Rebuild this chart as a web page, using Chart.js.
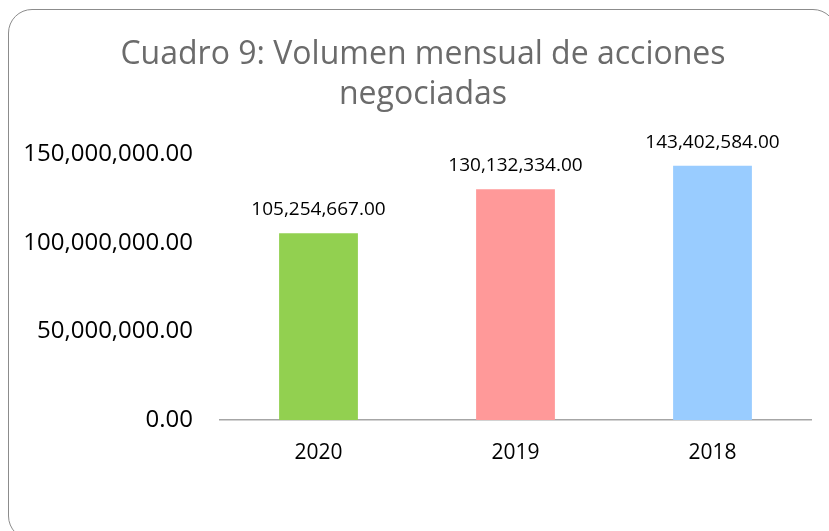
<!DOCTYPE html>
<html>
<head>
<meta charset="utf-8">
<script src="https://cdn.jsdelivr.net/npm/chart.js@4"></script>
<style>
  html, body { margin: 0; padding: 0; width: 829px; height: 531px; overflow: hidden; background: #fff; }
  #frame { position: absolute; left: 8px; top: 9px; width: 829px; height: 531px; border: 1px solid #8c8c8c; border-radius: 24px; box-sizing: border-box; }
  #wrap { position: absolute; left: 0; top: 0; width: 829px; height: 531px; }
</style>
</head>
<body>
<div id="frame"></div>
<div id="wrap"><canvas id="c" width="829" height="531"></canvas></div>
<script>
const titleLines = ["Cuadro 9: Volumen mensual de acciones", "negociadas"];
const categories = ["2020", "2019", "2018"];
const volumes = [105254667, 130132334, 143402584];
const barColors = ["#92D050", "#FF9999", "#99CCFF"];
const yTicks = [0, 50000000, 100000000, 150000000];

const FONT = "'Open Sans', sans-serif";
const fmt = v => Number(v).toLocaleString('en-US', { minimumFractionDigits: 2, maximumFractionDigits: 2 });

const titlePlugin = {
  id: 'customTitle',
  afterDraw(chart) {
    const ctx = chart.ctx;
    ctx.save();
    ctx.fillStyle = '#6b6b6b';
    ctx.font = "32px " + FONT;
    ctx.textAlign = 'center';
    ctx.textBaseline = 'alphabetic';
    ctx.fillText(titleLines[0], 423, 64);
    ctx.fillText(titleLines[1], 423, 104);
    ctx.restore();
  }
};

const labelPlugin = {
  id: 'barLabels',
  afterDatasetsDraw(chart) {
    const ctx = chart.ctx;
    const meta = chart.getDatasetMeta(0);
    ctx.save();
    ctx.fillStyle = '#000';
    ctx.font = "19px " + FONT;
    ctx.textAlign = 'center';
    ctx.textBaseline = 'alphabetic';
    meta.data.forEach((bar, i) => {
      ctx.fillText(fmt(chart.data.datasets[0].data[i]), bar.x, bar.y - 18);
    });
    ctx.restore();
  }
};

new Chart(document.getElementById('c'), {
  type: 'bar',
  data: {
    labels: categories,
    datasets: [{
      data: volumes,
      backgroundColor: barColors,
      borderWidth: 0,
      categoryPercentage: 1.0,
      barPercentage: 0.4
    }]
  },
  options: {
    responsive: false,
    animation: false,
    layout: { padding: { top: 154, left: 0, right: 18, bottom: 0 } },
    plugins: { legend: { display: false }, tooltip: { enabled: false }, title: { display: false } },
    scales: {
      x: {
        grid: { display: false, drawTicks: false },
        border: { display: true, color: '#a6a6a6', width: 1.5 },
        ticks: { color: '#000', font: { family: FONT, size: 21 }, padding: 20 },
        afterFit(scale) { scale.height = 111; }
      },
      y: {
        min: 0,
        max: 150000000,
        afterBuildTicks(scale) { scale.ticks = yTicks.map(v => ({ value: v })); },
        grid: { display: false, drawTicks: false },
        border: { display: false },
        ticks: { color: '#000', font: { family: FONT, size: 24 }, padding: 27, callback: v => fmt(v) },
        afterFit(scale) { scale.width = 220; }
      }
    }
  },
  plugins: [titlePlugin, labelPlugin]
});
</script>
</body>
</html>
